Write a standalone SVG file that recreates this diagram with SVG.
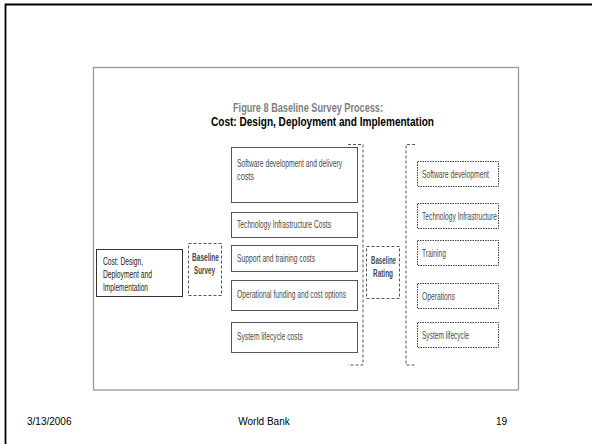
<svg xmlns="http://www.w3.org/2000/svg" width="592" height="444" viewBox="0 0 592 444">
<style>
text{font-family:"Liberation Sans",Arial,sans-serif}
.t{font-size:10.5px;fill:#4a4a4a}
.b{font-size:10.5px;fill:#4a4a4a;font-weight:bold}
.box{fill:#fff;stroke:#555;stroke-width:1}
.dash{fill:none;stroke:#555;stroke-width:1;stroke-dasharray:3,2}
.dot{fill:none;stroke:#444;stroke-width:1;stroke-dasharray:1.5,1}
.foot{font-size:10px;fill:#000}
</style>
<rect width="592" height="444" fill="#fff"/>
<path d="M5.5 444V4.5H592" fill="none" stroke="#000" stroke-width="1.8"/>
<rect x="93.5" y="67.5" width="425" height="322.5" fill="#fff" stroke="#999" stroke-width="1.3"/>
<g id="title">
<text x="233" y="112" textLength="150" lengthAdjust="spacingAndGlyphs" style="font-size:13px;font-weight:bold;fill:#808080">Figure 8 Baseline Survey Process:</text>
<text x="211" y="126" textLength="223" lengthAdjust="spacingAndGlyphs" style="font-size:13px;font-weight:bold;fill:#000">Cost: Design, Deployment and Implementation</text>
</g>
<g id="connectors">
<path class="dash" d="M348 144.5H363V365H348"/>
<path class="dash" d="M415 144.5H406V365H415"/>
</g>
<g id="source">
<rect x="96.5" y="249.5" width="86" height="47" fill="#fff" stroke="#333" stroke-width="1"/>
<text class="t" x="103" y="265" textLength="40" lengthAdjust="spacingAndGlyphs" style="fill:#222">Cost: Design,</text>
<text class="t" x="103" y="278" textLength="49" lengthAdjust="spacingAndGlyphs" style="fill:#222">Deployment and</text>
<text class="t" x="103" y="291" textLength="45" lengthAdjust="spacingAndGlyphs" style="fill:#222">Implementation</text>
</g>
<g id="baseline-survey">
<rect class="dash" x="188.5" y="243.5" width="33" height="52"/>
<text class="b" x="192" y="261" textLength="27" lengthAdjust="spacingAndGlyphs">Baseline</text>
<text class="b" x="194" y="274" textLength="21" lengthAdjust="spacingAndGlyphs">Survey</text>
</g>
<g id="software-costs">
<rect class="box" x="231.5" y="147.5" width="126" height="55"/>
<text class="t" x="237" y="167" textLength="105" lengthAdjust="spacingAndGlyphs">Software development and delivery</text>
<text class="t" x="237" y="180" textLength="17" lengthAdjust="spacingAndGlyphs">costs</text>
</g>
<g id="tech-costs">
<rect class="box" x="231.5" y="212.5" width="126" height="25"/>
<text class="t" x="237" y="228" textLength="94" lengthAdjust="spacingAndGlyphs">Technology Infrastructure Costs</text>
</g>
<g id="support-costs">
<rect class="box" x="231.5" y="245.5" width="126" height="26"/>
<text class="t" x="237" y="262" textLength="78" lengthAdjust="spacingAndGlyphs">Support and training costs</text>
</g>
<g id="operational-costs">
<rect class="box" x="231.5" y="280.5" width="126" height="30"/>
<text class="t" x="237" y="298" textLength="109" lengthAdjust="spacingAndGlyphs">Operational funding and cost options</text>
</g>
<g id="lifecycle-costs">
<rect class="box" x="231.5" y="322.5" width="126" height="30"/>
<text class="t" x="237" y="340" textLength="66" lengthAdjust="spacingAndGlyphs">System lifecycle costs</text>
</g>
<g id="baseline-rating">
<rect class="dash" x="366.5" y="246.5" width="33" height="52"/>
<text class="b" x="371" y="264" textLength="25" lengthAdjust="spacingAndGlyphs">Baseline</text>
<text class="b" x="373" y="277" textLength="20" lengthAdjust="spacingAndGlyphs">Rating</text>
</g>
<g id="r-software">
<rect class="dot" x="417.5" y="161.5" width="81" height="25"/>
<text class="t" x="422" y="178" textLength="67" lengthAdjust="spacingAndGlyphs">Software development</text>
</g>
<g id="r-tech">
<rect class="dot" x="417.5" y="203.5" width="81" height="25"/>
<text class="t" x="422" y="220" textLength="75" lengthAdjust="spacingAndGlyphs">Technology Infrastructure</text>
</g>
<g id="r-training">
<rect class="dot" x="417.5" y="240.5" width="81" height="25"/>
<text class="t" x="422" y="257" textLength="24" lengthAdjust="spacingAndGlyphs">Training</text>
</g>
<g id="r-operations">
<rect class="dot" x="417.5" y="283.5" width="81" height="25"/>
<text class="t" x="422" y="300" textLength="33" lengthAdjust="spacingAndGlyphs">Operations</text>
</g>
<g id="r-lifecycle">
<rect class="dot" x="417.5" y="322.5" width="81" height="25"/>
<text class="t" x="422" y="339" textLength="47" lengthAdjust="spacingAndGlyphs">System lifecycle</text>
</g>
<g id="footer">
<text class="foot" x="27" y="425">3/13/2006</text>
<text class="foot" x="264" y="425" text-anchor="middle">World Bank</text>
<text class="foot" x="507" y="425" text-anchor="end">19</text>
</g>
</svg>
